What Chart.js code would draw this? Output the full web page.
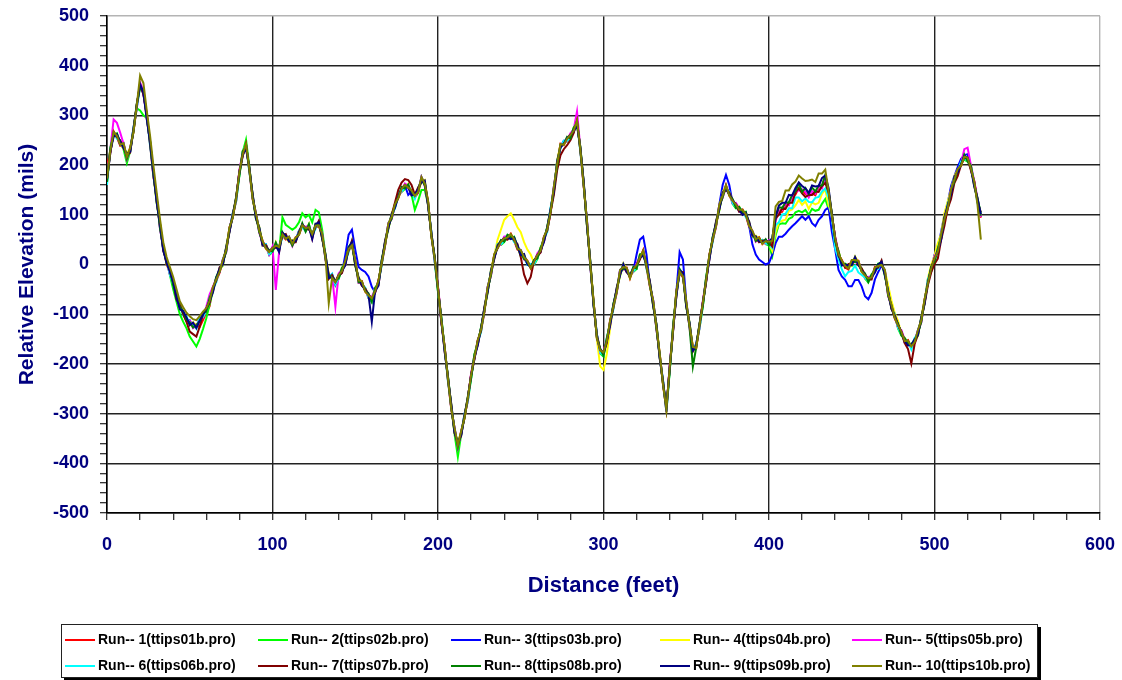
<!DOCTYPE html>
<html>
<head>
<meta charset="utf-8">
<script src="https://cdn.jsdelivr.net/npm/chart.js@4"></script>
<style>
  body { margin: 0; background: #fff; }
  #wrap { position: relative; width: 1122px; height: 680px; }
  #legend {
    position: absolute; left: 61px; top: 624px; width: 975px; height: 52px;
    border: 1px solid #222; background: #fff; box-shadow: 3px 3px 0 #000;
    font: bold 14px "Liberation Sans", Arial, sans-serif; color: #000;
  }
  .item { position: absolute; white-space: nowrap; line-height: 18px; }
  .swatch { display: inline-block; width: 30px; height: 2px; vertical-align: middle; margin-right: 3px; }
</style>
</head>
<body>
<div id="wrap">
  <canvas id="chart" width="1122" height="680"></canvas>
  <div id="legend"></div>
</div>
<script>
// profile sampled every 2 ft, 0 .. 528
const distance = Array.from({ length: 265 }, (_, i) => i * 2);

const runLabels = [
  'Run-- 1(ttips01b.pro)', 'Run-- 2(ttips02b.pro)', 'Run-- 3(ttips03b.pro)',
  'Run-- 4(ttips04b.pro)', 'Run-- 5(ttips05b.pro)', 'Run-- 6(ttips06b.pro)',
  'Run-- 7(ttips07b.pro)', 'Run-- 8(ttips08b.pro)', 'Run-- 9(ttips09b.pro)',
  'Run-- 10(ttips10b.pro)'
];
const runColors = ['#ff0000', '#00ff00', '#0000ff', '#ffff00', '#ff00ff',
  '#00ffff', '#800000', '#008000', '#000080', '#808000'];

const xTicks = [0, 100, 200, 300, 400, 500, 600];
const yTicks = [-500, -400, -300, -200, -100, 0, 100, 200, 300, 400, 500];

const run1 = [
  200, 227, 268, 256, 239, 241, 217, 235, 266, 320,
  364, 345, 304, 242, 178, 133, 77, 37, 0, -15,
  -34, -67, -79, -100, -114, -115, -123, -120, -126, -112,
  -97, -84, -45, -33, -17, 7, 29, 75, 94, 132,
  188, 221, 244, 189, 131, 100, 69, 48, 32, 25,
  34, 37, 36, 58, 50, 53, 42, 55, 59, 79,
  74, 74, 62, 75, 77, 59, 15, -19, -28, -36,
  -20, -14, 9, 28, 37, 6, -32, -33, -55, -62,
  -67, -54, -32, 1, 37, 80, 96, 122, 133, 152,
  161, 154, 150, 135, 144, 173, 163, 128, 56, 12,
  -46, -113, -164, -232, -291, -332, -363, -335, -310, -270,
  -221, -188, -152, -134, -97, -48, -18, 21, 32, 45,
  54, 53, 62, 48, 30, 26, 15, 8, -8, 5,
  20, 27, 56, 68, 104, 153, 203, 243, 240, 253,
  262, 268, 291, 229, 158, 86, 2, -73, -149, -173,
  -176, -155, -112, -87, -57, -14, -5, -6, -28, -9,
  0, 13, 29, -6, -44, -75, -126, -180, -243, -291,
  -206, -133, -54, -17, -26, -77, -123, -165, -169, -123,
  -76, -33, 21, 48, 76, 118, 139, 160, 138, 128,
  122, 109, 111, 98, 76, 65, 51, 55, 41, 47,
  47, 42, 98, 103, 106, 121, 124, 137, 141, 154,
  149, 142, 145, 143, 139, 155, 158, 177, 141, 99,
  54, 20, 9, -6, -10, 6, 9, 8, -15, -22,
  -27, -27, -5, -6, -3, -14, -59, -80, -109, -123,
  -134, -155, -152, -168, -158, -135, -112, -70, -39, -8,
  14, 25, 61, 88, 112, 148, 171, 193, 198, 217,
  216, 192, 168, 126, 94
];
const run2 = [
  165, 232, 259, 264, 246, 232, 204, 228, 273, 314,
  310, 300, 295, 250, 185, 124, 82, 30, 7, -21,
  -50, -75, -100, -115, -128, -145, -155, -165, -150, -130,
  -108, -80, -54, -25, -10, -2, 34, 68, 101, 126,
  179, 226, 251, 197, 138, 91, 74, 41, 39, 19,
  25, 42, 27, 95, 80, 75, 70, 75, 85, 103,
  95, 100, 85, 110, 105, 70, 20, -26, -21, -42,
  -29, -9, 0, 36, 44, -3, -27, -40, -48, -68,
  -76, -49, -41, 9, 44, 71, 101, 115, 140, 146,
  152, 159, 141, 110, 128, 150, 150, 121, 63, 6,
  -55, -108, -173, -224, -284, -341, -387, -342, -303, -276,
  -230, -183, -161, -126, -90, -57, -13, 14, 39, 39,
  45, 58, 53, 56, 37, 17, 20, 1, -1, -1,
  11, 32, 47, 76, 111, 144, 208, 236, 247, 247,
  253, 273, 282, 237, 165, 77, 7, -80, -142, -179,
  -185, -150, -121, -79, -50, -23, 0, -13, -21, -15,
  -9, 18, 20, 2, -37, -84, -121, -187, -236, -297,
  -215, -128, -63, -9, -19, -86, -118, -172, -162, -129,
  -85, -28, 12, 56, 83, 109, 144, 153, 145, 122,
  113, 114, 102, 106, 83, 56, 56, 48, 48, 41,
  38, 17, 59, 81, 83, 82, 92, 95, 105, 108,
  105, 110, 100, 112, 108, 110, 122, 132, 112, 93,
  45, 25, 0, 2, -3, -3, 14, 1, -8, -28,
  -36, -22, -14, 2, 4, -23, -54, -87, -102, -129,
  -143, -150, -161, -160, -151, -144, -107, -77, -32, -14,
  5, 30, 52, 96, 119, 139, 176, 186, 205, 211,
  207, 197, 159, 134, 101
];
const run3 = [
  172, 225, 265, 259, 241, 244, 215, 229, 275, 316,
  362, 343, 301, 245, 180, 136, 75, 31, 9, -19,
  -36, -69, -82, -97, -112, -112, -125, -126, -107, -106,
  -89, -76, -48, -30, -15, 10, 27, 69, 103, 128,
  186, 219, 241, 192, 133, 103, 67, 42, 41, 21,
  32, 35, 33, 61, 52, 56, 40, 49, 68, 75,
  72, 72, 59, 78, 79, 62, 13, -25, -19, -40,
  -22, -16, 20, 60, 70, 30, -5, -11, -15, -24,
  -45, -56, -35, 4, 39, 83, 94, 116, 142, 148,
  159, 140, 147, 138, 146, 176, 161, 122, 65, 8,
  -48, -115, -167, -229, -289, -329, -365, -341, -301, -274,
  -223, -190, -155, -131, -95, -45, -20, 15, 41, 41,
  52, 51, 59, 51, 32, 29, 13, 2, 1, 1,
  18, 25, 53, 71, 106, 156, 201, 237, 249, 249,
  260, 266, 288, 232, 160, 89, 0, -79, -140, -177,
  -178, -157, -115, -84, -55, -11, -7, -12, -19, -13,
  20, 50, 56, 20, -42, -72, -128, -186, -234, -295,
  -208, -135, -57, 25, 10, -74, -125, -171, -160, -127,
  -78, -35, 18, 51, 78, 121, 160, 180, 160, 124,
  120, 107, 108, 101, 78, 40, 20, 10, 5, 0,
  3, 20, 43, 56, 56, 62, 70, 77, 83, 90,
  97, 90, 97, 83, 77, 90, 97, 110, 115, 65,
  30, -11, -24, -31, -44, -44, -31, -31, -44, -64,
  -70, -57, -30, -15, -1, -11, -61, -86, -100, -127,
  -136, -157, -155, -165, -156, -132, -114, -76, -30, -12,
  20, 33, 66, 99, 124, 158, 178, 196, 212, 220,
  222, 196, 165, 129, 96
];
const run4 = [
  168, 235, 258, 261, 244, 233, 224, 232, 267, 319,
  358, 353, 294, 247, 183, 125, 84, 34, 1, -16,
  -40, -59, -89, -95, -109, -123, -116, -123, -115, -103,
  -93, -66, -55, -28, -12, -1, 36, 72, 95, 131,
  182, 229, 234, 194, 136, 92, 76, 45, 33, 24,
  28, 45, 26, 63, 55, 45, 49, 52, 60, 78,
  68, 82, 52, 80, 82, 51, 22, -22, -27, -37,
  -26, -6, -1, 33, 42, -2, -25, -36, -54, -63,
  -73, -46, -42, 6, 42, 72, 103, 119, 134, 151,
  155, 162, 140, 140, 149, 165, 170, 125, 57, 11,
  -52, -105, -174, -227, -286, -340, -356, -338, -309, -271,
  -227, -180, -162, -129, -92, -56, -11, 18, 50, 70,
  90, 97, 103, 90, 75, 65, 45, 30, 20, 4,
  14, 35, 46, 73, 109, 145, 210, 240, 241, 252,
  256, 276, 281, 234, 163, 78, 9, -76, -150, -205,
  -212, -180, -128, -82, -52, -22, 2, -9, -27, -10,
  -6, 21, 19, -1, -39, -83, -119, -183, -242, -292,
  -212, -125, -64, -12, -21, -85, -116, -168, -168, -124,
  -82, -25, 11, 53, 81, 110, 146, 157, 139, 127,
  116, 117, 101, 103, 81, 57, 58, 52, 42, 46,
  41, 27, 65, 85, 88, 90, 108, 111, 119, 130,
  120, 127, 112, 125, 121, 124, 142, 151, 119, 98,
  48, 28, -1, -1, -5, -2, 16, 5, -14, -23,
  -33, -19, -15, -1, 2, -12, -42, -73, -98, -114,
  -140, -147, -162, -163, -153, -143, -105, -73, -28, -1,
  18, 43, 61, 103, 127, 150, 178, 190, 199, 216,
  210, 200, 158, 131, 97
];
const run5 = [
  176, 231, 292, 285, 265, 243, 212, 232, 271, 315,
  366, 349, 294, 247, 182, 135, 72, 34, 5, -20,
  -32, -63, -89, -95, -110, -113, -128, -123, -111, -107,
  -85, -60, -45, -28, -13, 9, 24, 72, 99, 127,
  190, 225, 234, 194, 135, 102, 64, 45, 37, 20,
  36, -51, 26, 63, 54, 55, 37, 52, 64, 74,
  76, 78, 52, 80, 81, 61, 10, -22, -23, -85,
  -18, -10, -1, 33, 41, 8, -37, -36, -50, -67,
  -65, -50, -42, 6, 41, 82, 91, 119, 138, 147,
  163, 158, 140, 140, 148, 175, 158, 125, 61, 7,
  -44, -109, -174, -227, -287, -330, -368, -338, -305, -275,
  -219, -184, -162, -129, -93, -46, -23, 18, 37, 40,
  56, 57, 52, 53, 34, 28, 10, 5, -3, 0,
  22, 31, 46, 73, 108, 155, 198, 240, 245, 248,
  264, 272, 308, 234, 162, 88, -3, -76, -144, -178,
  -174, -151, -122, -82, -53, -12, -10, -9, -23, -14,
  2, 17, 19, -1, -40, -73, -131, -183, -238, -296,
  -204, -129, -64, -12, -22, -75, -128, -168, -164, -128,
  -74, -29, 11, 53, 80, 120, 134, 157, 143, 123,
  124, 113, 101, 103, 80, 67, 46, 52, 46, 42,
  49, 46, 88, 108, 110, 123, 119, 134, 146, 149,
  151, 146, 135, 148, 143, 157, 153, 174, 146, 94,
  56, 24, -1, -1, -6, 8, 4, 5, -10, -27,
  -25, -23, -15, -1, 1, -12, -64, -83, -104, -128,
  -132, -151, -162, -163, -154, -133, -117, -73, -34, -13,
  16, 29, 51, 93, 116, 150, 166, 190, 203, 232,
  235, 200, 168, 133, 96
];
const run6 = [
  160, 233, 264, 253, 249, 237, 221, 226, 275, 316,
  357, 351, 300, 239, 188, 129, 81, 28, 9, -19,
  -41, -61, -83, -103, -104, -119, -119, -129, -107, -106,
  -94, -68, -49, -36, -7, 3, 33, 66, 103, 128,
  181, 227, 240, 186, 141, 96, 73, 39, 41, 21,
  27, 43, 32, 55, 60, 49, 46, 46, 68, 75,
  67, 80, 58, 72, 87, 55, 19, -28, -19, -40,
  -27, -8, 5, 25, 47, 2, -28, -42, -46, -66,
  -74, -48, -36, -2, 47, 76, 100, 113, 142, 148,
  154, 160, 146, 132, 154, 169, 167, 119, 65, 8,
  -53, -107, -168, -235, -281, -336, -359, -344, -301, -274,
  -228, -182, -156, -137, -87, -52, -14, 12, 41, 41,
  47, 59, 58, 45, 40, 22, 19, -1, 1, 1,
  13, 33, 52, 65, 114, 149, 207, 234, 249, 249,
  255, 274, 287, 226, 168, 82, 6, -82, -140, -177,
  -183, -149, -116, -90, -47, -18, -1, -15, -19, -13,
  -7, 19, 25, -9, -34, -79, -122, -189, -234, -295,
  -213, -127, -58, -20, -16, -81, -119, -174, -160, -127,
  -83, -27, 17, 45, 86, 114, 143, 151, 147, 124,
  115, 115, 107, 95, 86, 61, 55, 46, 50, 43,
  40, 33, 79, 85, 101, 102, 113, 113, 135, 135,
  127, 133, 126, 125, 134, 136, 147, 153, 135, 95,
  32, 11, -10, -24, -15, -13, -2, -16, -21, -26,
  -34, -21, -9, -9, 7, -18, -55, -89, -100, -127,
  -141, -149, -156, -171, -148, -139, -108, -79, -30, -12,
  7, 31, 57, 85, 122, 144, 175, 184, 207, 213,
  209, 198, 164, 123, 104
];
const run7 = [
  171, 224, 266, 256, 250, 235, 220, 225, 273, 322,
  361, 342, 302, 242, 189, 127, 80, 27, 7, -13,
  -37, -70, -81, -100, -115, -135, -140, -145, -125, -100,
  -90, -77, -47, -33, -6, 1, 32, 65, 101, 134,
  185, 218, 242, 189, 142, 94, 72, 38, 39, 27,
  31, 34, 34, 58, 61, 47, 45, 45, 66, 81,
  71, 71, 60, 75, 88, 53, 18, -29, -21, -34,
  -23, -17, 7, 28, 48, 0, -29, -43, -48, -60,
  -70, -57, -34, 1, 48, 74, 99, 125, 150, 165,
  172, 170, 160, 140, 155, 167, 166, 118, 63, 14,
  -49, -116, -166, -232, -280, -338, -360, -345, -303, -268,
  -224, -191, -154, -134, -86, -54, -15, 11, 39, 47,
  51, 50, 60, 48, 41, 15, -20, -38, -25, 7,
  17, 24, 54, 68, 105, 140, 190, 220, 232, 240,
  250, 265, 289, 229, 169, 80, 5, -83, -142, -171,
  -179, -158, -114, -87, -46, -20, -2, -16, -21, -7,
  -3, 10, 27, -6, -33, -81, -123, -190, -236, -289,
  -209, -136, -56, -17, -15, -83, -120, -175, -162, -121,
  -79, -36, 19, 48, 87, 112, 142, 150, 145, 130,
  119, 106, 109, 98, 87, 59, 54, 45, 48, 49,
  44, 36, 93, 100, 114, 112, 124, 124, 145, 153,
  143, 136, 140, 140, 147, 146, 158, 164, 145, 101,
  51, 17, 7, -6, 1, 0, 12, -2, -8, -20,
  -30, -30, -7, -6, 8, -20, -56, -90, -102, -121,
  -137, -158, -170, -199, -160, -141, -109, -80, -42, -16,
  1, 12, 49, 78, 113, 132, 164, 178, 200, 215,
  213, 189, 166, 126, 105
];
const run8 = [
  166, 234, 261, 263, 242, 240, 213, 233, 268, 324,
  356, 352, 297, 249, 181, 132, 73, 35, 2, -11,
  -42, -60, -86, -93, -111, -116, -127, -122, -114, -98,
  -95, -67, -52, -26, -14, 6, 25, 73, 96, 136,
  180, 228, 237, 196, 134, 99, 65, 46, 34, 29,
  26, 44, 29, 65, 53, 52, 38, 53, 61, 83,
  66, 81, 55, 82, 80, 58, 11, -21, -26, -32,
  -28, -7, 2, 35, 40, 5, -36, -35, -53, -58,
  -75, -47, -39, 8, 40, 79, 92, 120, 135, 156,
  153, 161, 143, 142, 147, 172, 159, 126, 58, 16,
  -54, -106, -171, -225, -288, -333, -367, -337, -308, -266,
  -229, -181, -159, -127, -94, -49, -22, 19, 34, 49,
  46, 60, 55, 55, 33, 25, 11, 6, -6, 9,
  12, 34, 49, 75, 107, 152, 199, 241, 242, 257,
  254, 275, 284, 236, 161, 85, -2, -75, -147, -169,
  -184, -148, -119, -80, -54, -15, -9, -8, -26, -5,
  -8, 20, 22, 1, -41, -76, -130, -182, -241, -287,
  -214, -126, -61, -10, -23, -78, -127, -205, -167, -119,
  -84, -26, 14, 55, 79, 117, 135, 158, 140, 132,
  114, 116, 104, 105, 79, 64, 47, 53, 43, 51,
  39, 54, 96, 115, 114, 125, 125, 140, 148, 163,
  146, 154, 143, 155, 147, 159, 159, 180, 148, 103,
  46, 27, 2, 1, -7, 5, 5, 6, -13, -18,
  -35, -20, -12, 1, 0, -15, -63, -82, -107, -119,
  -142, -148, -159, -161, -155, -136, -116, -72, -37, -4,
  6, 32, 54, 95, 115, 147, 167, 191, 200, 221,
  208, 199, 161, 133, 98
];
const run9 = [
  173, 228, 257, 262, 247, 234, 223, 227, 269, 321,
  363, 346, 293, 248, 186, 126, 83, 29, 3, -14,
  -35, -66, -90, -94, -106, -122, -117, -128, -113, -101,
  -88, -73, -56, -27, -9, 0, 35, 67, 97, 133,
  187, 222, 233, 195, 139, 93, 75, 40, 35, 26,
  33, 38, 25, 64, 58, 46, 48, 47, 62, 80,
  73, 75, 51, 81, 85, 52, 21, -27, -25, -35,
  -21, -13, -2, 34, 45, -1, -26, -41, -52, -61,
  -115, -53, -43, 7, 45, 73, 102, 114, 136, 153,
  160, 155, 139, 141, 152, 166, 169, 120, 59, 13,
  -47, -112, -175, -226, -283, -339, -357, -343, -307, -269,
  -222, -187, -163, -128, -89, -55, -12, 13, 35, 46,
  53, 54, 51, 54, 38, 19, 21, 0, -5, 6,
  19, 28, 45, 74, 112, 146, 209, 235, 243, 254,
  261, 269, 280, 235, 166, 79, 8, -81, -146, -172,
  -177, -154, -123, -81, -49, -21, 1, -14, -25, -8,
  -1, 14, 18, 0, -36, -82, -120, -188, -240, -290,
  -207, -132, -65, -11, -18, -84, -117, -173, -166, -122,
  -77, -32, 10, 54, 84, 111, 145, 152, 141, 129,
  121, 110, 100, 104, 84, 58, 57, 47, 44, 48,
  46, 53, 97, 119, 124, 124, 140, 139, 154, 165,
  158, 153, 144, 159, 157, 158, 174, 179, 154, 100,
  53, 21, -2, 0, -2, -1, 15, 0, -12, -21,
  -28, -26, -16, 0, 5, -21, -53, -88, -106, -122,
  -135, -154, -163, -162, -150, -142, -106, -78, -36, -7,
  13, 26, 50, 94, 120, 141, 177, 185, 201, 218,
  215, 193, 157, 132, 101
];
const run10 = [
  173, 228, 267, 259, 241, 244, 217, 234, 267, 320,
  380, 365, 310, 260, 200, 145, 92, 45, 15, -5,
  -25, -50, -74, -86, -97, -104, -110, -112, -104, -95,
  -88, -73, -46, -30, -15, 10, 29, 74, 95, 132,
  187, 222, 243, 192, 133, 103, 69, 47, 33, 25,
  33, 38, 35, 61, 52, 56, 42, 54, 60, 79,
  73, 75, 61, 78, 79, 62, 15, -78, -27, -36,
  -21, -13, 8, 31, 39, 9, -32, -34, -54, -62,
  -68, -53, -33, 4, 39, 83, 96, 121, 134, 152,
  160, 155, 149, 138, 146, 176, 163, 127, 57, 12,
  -47, -112, -165, -229, -289, -329, -363, -336, -309, -270,
  -222, -187, -153, -131, -95, -45, -18, 20, 33, 45,
  53, 54, 61, 51, 32, 29, 15, 7, -7, 5,
  19, 28, 55, 71, 106, 156, 203, 242, 241, 253,
  261, 269, 290, 232, 160, 89, 2, -74, -148, -173,
  -177, -154, -113, -84, -55, -11, -5, -7, -27, -9,
  -1, 14, 28, -3, -42, -72, -126, -181, -242, -291,
  -207, -132, -55, -14, -24, -74, -123, -166, -168, -123,
  -77, -32, 20, 51, 78, 121, 139, 159, 139, 128,
  121, 110, 110, 101, 78, 68, 51, 54, 42, 47,
  46, 48, 117, 126, 128, 149, 149, 161, 167, 179,
  173, 168, 169, 171, 166, 183, 183, 191, 147, 99,
  53, 21, 8, -3, -8, 9, 9, 7, -14, -22,
  -28, -26, -6, -3, -1, -11, -59, -81, -108, -123,
  -135, -154, -153, -165, -156, -132, -112, -71, -38, -8,
  13, 26, 60, 91, 114, 151, 171, 192, 199, 217,
  215, 193, 167, 120, 50
];

const runs = [run1, run2, run3, run4, run5, run6, run7, run8, run9, run10];

const navy = '#000080';
const fontFamily = '"Liberation Sans", Arial, Helvetica, sans-serif';

const datasets = runs.map((values, i) => ({
  label: runLabels[i],
  data: values.map((v, j) => ({ x: distance[j], y: v })),
  borderColor: runColors[i],
  backgroundColor: runColors[i],
  borderWidth: 2,
  pointRadius: 0,
  fill: false,
  tension: 0,
  // later runs are painted over earlier ones
  order: runs.length - i
}));

function gridColor(topValue) {
  return (ctx) => {
    const v = ctx.tick && ctx.tick.value;
    if (v === topValue) return '#b4b4b4';
    return v % 100 === 0 ? '#222' : 'rgba(0,0,0,0)';
  };
}

new Chart(document.getElementById('chart').getContext('2d'), {
  type: 'line',
  data: { datasets: datasets },
  options: {
    responsive: false,
    animation: false,
    layout: { padding: { top: 16, right: 22, left: 0, bottom: 0 } },
    plugins: {
      legend: { display: false },
      tooltip: { enabled: false }
    },
    scales: {
      x: {
        type: 'linear',
        min: xTicks[0],
        max: xTicks[xTicks.length - 1],
        // fixed plot box: the layout padding alone decides the edges
        afterFit: (scale) => {
          scale.height = 167;
          scale.paddingLeft = 0;
          scale.paddingRight = 0;
        },
        border: { display: true, color: '#000', width: 1.5 },
        grid: {
          color: gridColor(xTicks[xTicks.length - 1]),
          lineWidth: 1.4,
          drawTicks: true,
          tickLength: 7,
          tickColor: '#222',
          tickWidth: 1.2
        },
        ticks: {
          stepSize: 20,
          autoSkip: false,
          maxRotation: 0,
          padding: 14,
          color: navy,
          font: { family: fontFamily, weight: 'bold', size: 18 },
          callback: (v) => (xTicks.includes(v) ? v : '')
        },
        title: {
          display: true,
          text: 'Distance (feet)',
          color: navy,
          font: { family: fontFamily, weight: 'bold', size: 22 },
          padding: { top: 0, bottom: 81 }
        }
      },
      y: {
        min: yTicks[0],
        max: yTicks[yTicks.length - 1],
        afterFit: (scale) => {
          scale.width = 107;
          scale.paddingTop = 0;
          scale.paddingBottom = 0;
        },
        border: { display: true, color: '#000', width: 1.5 },
        grid: {
          color: gridColor(yTicks[yTicks.length - 1]),
          lineWidth: 1.4,
          drawTicks: true,
          tickLength: 7,
          tickColor: '#222',
          tickWidth: 1.2
        },
        ticks: {
          stepSize: 20,
          autoSkip: false,
          padding: 11,
          color: navy,
          font: { family: fontFamily, weight: 'bold', size: 18 },
          callback: (v) => (yTicks.includes(v) ? v : '')
        },
        title: {
          display: true,
          text: 'Relative Elevation (mils)',
          color: navy,
          font: { family: fontFamily, weight: 'bold', size: 21 },
          padding: { top: 15, bottom: 0 }
        }
      }
    }
  }
});

// legend box under the plot: two rows of five
const legend = document.getElementById('legend');
const colX = [3, 196, 389, 598, 790];
const rowY = [5, 31];
runLabels.forEach((label, i) => {
  const item = document.createElement('div');
  item.className = 'item';
  item.style.left = colX[i % 5] + 'px';
  item.style.top = rowY[Math.floor(i / 5)] + 'px';
  item.innerHTML = `<span class="swatch" style="background:${runColors[i]}"></span>${label}`;
  legend.appendChild(item);
});
</script>
</body>
</html>
